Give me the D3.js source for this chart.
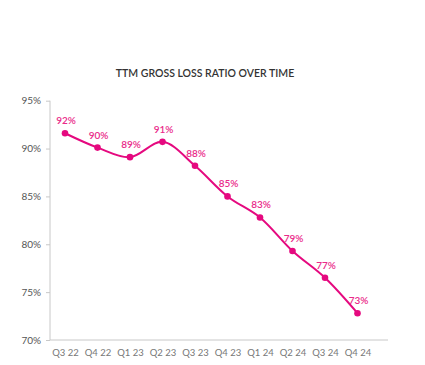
<!DOCTYPE html>
<html><head><meta charset="utf-8">
<script src="https://cdn.jsdelivr.net/npm/d3@7"></script>
<style>body{margin:0;background:#fff}svg{display:block}</style>
</head><body><svg id="c" width="425" height="365"></svg>
<script>
const categories = ["Q3 22","Q4 22","Q1 23","Q2 23","Q3 23","Q4 23","Q1 24","Q2 24","Q3 24","Q4 24"];
const values = [91.6, 90.1, 89.1, 90.7, 88.2, 85.0, 82.8, 79.3, 76.5, 72.8];
const labels = ["92%","90%","89%","91%","88%","85%","83%","79%","77%","73%"];
const yTicks = [70, 75, 80, 85, 90, 95];
const title = "TTM GROSS LOSS RATIO OVER TIME";

const svg = d3.select("#c");
const font = "Lato, 'Open Sans', sans-serif";
const pink = "#e5097f";

const x = d3.scalePoint().domain(categories).range([65, 357.5]);
const y = d3.scaleLinear().domain([70, 95]).range([340, 100.7]);

svg.append("text").attr("x", 205).attr("y", 77).attr("text-anchor", "middle")
  .attr("font-family", font).attr("font-size", 10.5).attr("font-weight", 600)
  .attr("fill", "#333").text(title);

// y axis
const ya = svg.append("g").attr("transform", "translate(50,0)")
  .call(d3.axisLeft(y).tickValues(yTicks).tickFormat(d => d + "%").tickSize(4).tickPadding(5));
ya.select(".domain").attr("stroke", "#c8c8c8").attr("d", `M0,${y(95)}V${y(70)}`);
ya.selectAll(".tick line").attr("stroke", "#c8c8c8");
ya.selectAll(".tick text").attr("font-family", font).attr("font-size", 10).attr("fill", "#555");

// x axis
const xa = svg.append("g").attr("transform", `translate(0,${y(70)})`)
  .call(d3.axisBottom(x).tickSize(0).tickPadding(9));
xa.select(".domain").attr("stroke", "#c8c8c8").attr("d", "M50,0H388");
xa.selectAll(".tick text").attr("font-family", font).attr("font-size", 9.5).attr("fill", "#777");

const data = categories.map((c, i) => ({c, v: values[i], l: labels[i]}));
const line = d3.line().x(d => x(d.c)).y(d => y(d.v)).curve(d3.curveCatmullRom.alpha(0.5));
svg.append("path").datum(data).attr("d", line).attr("fill", "none")
  .attr("stroke", pink).attr("stroke-width", 2);

svg.selectAll("circle.p").data(data).join("circle")
  .attr("cx", d => x(d.c)).attr("cy", d => y(d.v)).attr("r", 3.3).attr("fill", pink);

svg.selectAll("text.lbl").data(data).join("text").attr("class", "lbl")
  .attr("x", d => x(d.c) + 1).attr("y", d => y(d.v) - 9)
  .attr("text-anchor", "middle").attr("font-family", font).attr("font-size", 10)
  .attr("font-weight", 600).attr("fill", "#ea2b8a").text(d => d.l);
</script></body></html>
